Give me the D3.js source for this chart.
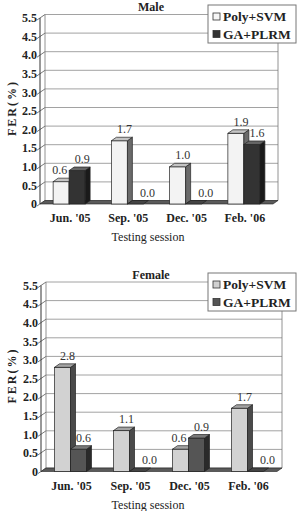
<!DOCTYPE html>
<html lang="en">
<head>
  <meta charset="UTF-8">
  <title>FER by testing session</title>
  <script src="https://d3js.org/d3.v7.min.js"></script>
  <style>
    html, body { margin: 0; padding: 0; background: #fff; overflow: hidden; }
    svg { display: block; }
    text { font-family: "Liberation Serif", "Times New Roman", serif; fill: #222; }
    .tick-label { font-size: 12px; font-weight: bold; }
    .val { font-size: 12px; fill: #333; }
    .grid { stroke: #8a8a8a; stroke-width: 0.8px; }
  </style>
</head>
<body>
<svg id="chart" width="298" height="511"></svg>
<script>
  // data
  const sessions = ["Jun. '05", "Sep. '05", "Dec. '05", "Feb. '06"];
  const seriesNames = ["Poly+SVM", "GA+PLRM"];
  const maleSvm = [0.6, 1.7, 1.0, 1.9];
  const maleGa = [0.9, 0.0, 0.0, 1.6];
  const femaleSvm = [2.8, 1.1, 0.6, 1.7];
  const femaleGa = [0.6, 0.0, 0.9, 0.0];
  // the original prints "5.5" at the 5.0 line
  const tickValues = [0, 0.5, 1.0, 1.5, 2.0, 2.5, 3.0, 3.5, 4.0, 4.5, 5.0];
  const tickLabels = ["0", "0.5", "1.0", "1.5", "2.0", "2.5", "3.0", "3.5", "4.0", "4.5", "5.5"];

  const svg = d3.select("#chart");
  const dx = 5, dy = -3.5;   // fake 3d depth
  const barW = 16;

  const panels = [
    { title: "Male", svm: maleSvm, ga: maleGa, top: 0, zero: 204, left: 40, right: 273,
      colors: [
        { front: "#f3f3f3", top: "#c4c4c4", side: "#6a6a6a", swatch: "#f6f6f6" },
        { front: "#333", top: "#666", side: "#1a1a1a", swatch: "#333" }
      ] },
    { title: "Female", svm: femaleSvm, ga: femaleGa, top: 268, zero: 471.5, left: 41, right: 277,
      colors: [
        { front: "#d2d2d2", top: "#a4a4a4", side: "#4a4a4a", swatch: "#d0d0d0" },
        { front: "#555", top: "#7a7a7a", side: "#2a2a2a", swatch: "#555" }
      ] }
  ];

  function poly(pts) { return "M" + pts.map(p => p.join(",")).join("L") + "Z"; }

  panels.forEach(p => {
    const g = svg.append("g");
    const y = d3.scaleLinear().domain([0, 5]).range([p.zero, p.zero - 186]);
    const x = d3.scaleBand().domain(sessions).range([p.left, p.right]);
    const yTop = y(5);

    // title
    g.append("text")
      .attr("x", 151).attr("y", p.top + 11)
      .attr("text-anchor", "middle")
      .style("font-size", "12px").style("font-weight", "bold")
      .text(p.title);

    // back wall grid
    g.selectAll(".grid").data(tickValues).enter().append("line")
      .attr("class", "grid")
      .attr("x1", p.left + dx).attr("x2", p.right + dx)
      .attr("y1", d => y(d) + dy).attr("y2", d => y(d) + dy);

    // left wall slants
    g.selectAll(".slant").data(tickValues).enter().append("line")
      .attr("x1", p.left - 3).attr("y1", d => y(d) + 2)
      .attr("x2", p.left + dx).attr("y2", d => y(d) + dy)
      .attr("stroke", "#555").attr("stroke-width", 0.8);

    g.append("line").attr("x1", p.left).attr("x2", p.left)
      .attr("y1", yTop).attr("y2", p.zero)
      .attr("stroke", "#333").attr("stroke-width", 1);
    g.append("line").attr("x1", p.left + dx).attr("x2", p.left + dx)
      .attr("y1", yTop + dy).attr("y2", p.zero + dy)
      .attr("stroke", "#777").attr("stroke-width", 0.8);
    g.append("line").attr("x1", p.right + dx).attr("x2", p.right + dx)
      .attr("y1", yTop + dy).attr("y2", p.zero + dy)
      .attr("stroke", "#777").attr("stroke-width", 0.8);

    // floor
    g.append("path")
      .attr("d", poly([[p.left, p.zero], [p.right, p.zero], [p.right + dx, p.zero + dy], [p.left + dx, p.zero + dy]]))
      .attr("fill", "#5a5a5a").attr("stroke", "#222").attr("stroke-width", 0.6);

    // y tick labels
    g.selectAll(".ytl").data(tickValues).enter().append("text")
      .attr("class", "tick-label")
      .attr("x", p.left - 3).attr("y", d => y(d))
      .attr("dy", "0.35em")
      .attr("text-anchor", "end")
      .text((d, i) => tickLabels[i]);

    // bars
    sessions.forEach((s, i) => {
      const c = x(s) + x.bandwidth() / 2;
      [p.svm[i], p.ga[i]].forEach((v, k) => {
        const col = p.colors[k];
        const x0 = c - barW + k * barW, x1 = x0 + barW;
        const yt = y(v);
        const bg = g.append("g");
        if (v > 0) {
          bg.append("rect")
            .attr("x", x0).attr("y", yt).attr("width", barW).attr("height", p.zero - yt)
            .attr("fill", col.front).attr("stroke", "#222").attr("stroke-width", 0.7);
          bg.append("path")
            .attr("d", poly([[x1, yt], [x1 + dx, yt + dy], [x1 + dx, p.zero + dy], [x1, p.zero]]))
            .attr("fill", col.side).attr("stroke", "#222").attr("stroke-width", 0.7);
        }
        bg.append("path")
          .attr("d", poly([[x0, yt], [x0 + dx, yt + dy], [x1 + dx, yt + dy], [x1, yt]]))
          .attr("fill", v > 0 ? col.top : "#444").attr("stroke", "#222").attr("stroke-width", 0.7);
      });
    });

    // value labels on top so they stay readable
    sessions.forEach((s, i) => {
      const c = x(s) + x.bandwidth() / 2;
      [p.svm[i], p.ga[i]].forEach((v, k) => {
        const bc = c - barW / 2 + k * barW;
        let off = v > 0 ? 5 : 12;
        // keep the first label clear of a taller neighbour
        if (k === 0 && p.ga[i] > v) off = -1.5;
        g.append("text")
          .attr("class", "val")
          .attr("x", bc + off)
          .attr("y", y(v) + dy - 4)
          .attr("text-anchor", "middle")
          .text(v.toFixed(1));
      });
    });

    // x tick labels
    g.selectAll(".xtl").data(sessions).enter().append("text")
      .attr("class", "tick-label")
      .attr("x", d => x(d) + x.bandwidth() / 2 + 1)
      .attr("y", p.zero + 18)
      .attr("text-anchor", "middle")
      .text(d => d);

    g.append("text")
      .attr("x", 148).attr("y", p.zero + 37)
      .attr("text-anchor", "middle")
      .style("font-size", "12px")
      .text("Testing session");

    // y axis title
    const cy = (yTop + p.zero) / 2 - 3;
    g.append("text")
      .attr("transform", `translate(16,${cy}) rotate(-90)`)
      .attr("text-anchor", "middle")
      .style("font-size", "12px").style("font-weight", "bold")
      .style("letter-spacing", "2px")
      .text("FER(%)");

    // legend
    const lx = 208, ly = p.top + 5;
    const lg = g.append("g");
    lg.append("rect")
      .attr("x", lx).attr("y", ly).attr("width", 88).attr("height", 38)
      .attr("fill", "#fff").attr("stroke", "#777").attr("stroke-width", 1);
    seriesNames.forEach((n, k) => {
      lg.append("rect")
        .attr("x", lx + 5).attr("y", ly + 8 + k * 17.5).attr("width", 7).attr("height", 7)
        .attr("fill", p.colors[k].swatch).attr("stroke", "#333").attr("stroke-width", 0.8);
      lg.append("text")
        .attr("x", lx + 15).attr("y", ly + 16 + k * 17.5)
        .style("font-size", "13.5px").style("font-weight", "bold")
        .text(n);
    });
  });
</script>
</body>
</html>
